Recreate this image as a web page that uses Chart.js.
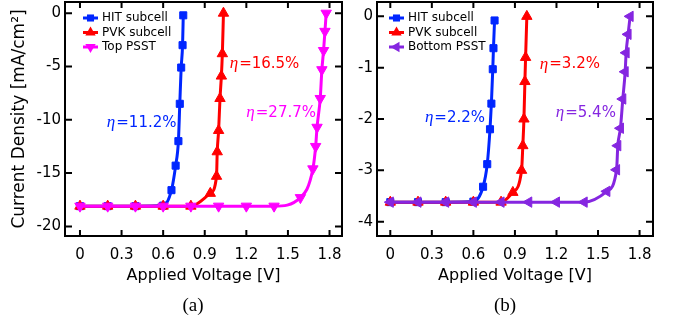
<!DOCTYPE html>
<html>
<head>
<meta charset="utf-8">
<script src="https://cdn.jsdelivr.net/npm/chart.js@4.4.0/dist/chart.umd.min.js"></script>
<style>
  html, body { margin: 0; padding: 0; background: #fff; }
  #wrap { position: relative; width: 673px; height: 328px; overflow: hidden; }
  #ca { position: absolute; left: 0; top: 0; }
  #cb { position: absolute; left: 345px; top: 0; }
  .panel { position: absolute; top: 294px; font: 19px "Liberation Serif", serif; transform: translateX(-50%); }
</style>
</head>
<body>
<div id="wrap">
  <canvas id="ca" width="345" height="328"></canvas>
  <canvas id="cb" width="328" height="328"></canvas>
  <div class="panel" style="left:193px">(a)</div>
  <div class="panel" style="left:505px">(b)</div>
</div>
<script>
// ticks
const xTicks = [0, 0.3, 0.6, 0.9, 1.2, 1.5, 1.8];
const yTicksA = [0, -5, -10, -15, -20];
const yTicksB = [0, -1, -2, -3, -4];

// series names
const namesA = ['HIT subcell', 'PVK subcell', 'Top PSST'];
const namesB = ['HIT subcell', 'PVK subcell', 'Bottom PSST'];
const effA = ['11.2%', '16.5%', '27.7%'];
const effB = ['2.2%', '3.2%', '5.4%'];

// panel (a): voltage [V] / current density [mA/cm2]
const hitVA = [0, 0.2, 0.4, 0.6, 0.66, 0.69, 0.71, 0.72, 0.73, 0.74, 0.745];
const hitJA = [-18.1, -18.1, -18.1, -18.05, -16.6, -14.3, -12.0, -8.5, -5.1, -3.0, -0.2];
const pvkVA = [0, 0.2, 0.4, 0.6, 0.8, 0.94, 0.985, 0.99, 1.0, 1.01, 1.02, 1.027, 1.035];
const pvkJA = [-18.1, -18.1, -18.1, -18.1, -18.1, -16.9, -15.3, -13.0, -11.0, -8.0, -5.9, -3.8, 0];
const psstVA = [0, 0.2, 0.4, 0.6, 0.8, 1.0, 1.2, 1.4, 1.59, 1.68, 1.70, 1.71, 1.733, 1.745, 1.757, 1.767, 1.776];
const psstJA = [-18.1, -18.1, -18.1, -18.1, -18.1, -18.1, -18.1, -18.1, -17.3, -14.6, -12.5, -10.7, -8.0, -5.3, -3.5, -1.7, 0];

// panel (b)
const hitVB = [0, 0.2, 0.4, 0.6, 0.67, 0.7, 0.72, 0.73, 0.74, 0.745, 0.753];
const hitJB = [-3.62, -3.62, -3.62, -3.61, -3.32, -2.88, -2.2, -1.7, -1.03, -0.62, -0.08];
const pvkVB = [0, 0.2, 0.4, 0.6, 0.8, 0.885, 0.948, 0.957, 0.965, 0.972, 0.977, 0.986];
const pvkJB = [-3.62, -3.62, -3.62, -3.62, -3.62, -3.43, -3.0, -2.52, -2.0, -1.27, -0.8, 0];
const psstVB = [0, 0.2, 0.4, 0.6, 0.8, 1.0, 1.2, 1.4, 1.564, 1.634, 1.643, 1.662, 1.679, 1.696, 1.703, 1.717, 1.732];
const psstJB = [-3.62, -3.62, -3.62, -3.62, -3.62, -3.62, -3.62, -3.62, -3.41, -2.99, -2.52, -2.18, -1.61, -1.08, -0.71, -0.35, 0];

const SANS = 'DejaVu Sans';
Chart.defaults.color = '#000';
Chart.defaults.font.family = SANS;

function drawMarker(ctx, style, rot, r, x, y) {
  ctx.save();
  ctx.translate(x, y);
  ctx.rotate((rot || 0) * Math.PI / 180);
  ctx.beginPath();
  if (style === 'rect') {
    const s = r * Math.SQRT1_2;
    ctx.rect(-s, -s, 2 * s, 2 * s);
  } else {
    ctx.moveTo(0, -r);
    ctx.lineTo(r * 0.866, r * 0.5);
    ctx.lineTo(-r * 0.866, r * 0.5);
    ctx.closePath();
  }
  ctx.fill();
  ctx.restore();
}

// box with inward ticks on all four sides
const frame = {
  id: 'frame',
  afterDatasetsDraw(chart) {
    const { ctx, chartArea: a, scales: { x, y } } = chart;
    ctx.save();
    ctx.strokeStyle = '#000';
    ctx.lineWidth = 2;
    ctx.beginPath();
    x.ticks.forEach(t => {
      const p = x.getPixelForValue(t.value);
      ctx.moveTo(p, a.bottom); ctx.lineTo(p, a.bottom - 6);
      ctx.moveTo(p, a.top); ctx.lineTo(p, a.top + 6);
    });
    y.ticks.forEach(t => {
      const p = y.getPixelForValue(t.value);
      ctx.moveTo(a.left, p); ctx.lineTo(a.left + 7, p);
      ctx.moveTo(a.right, p); ctx.lineTo(a.right - 7, p);
    });
    ctx.stroke();
    ctx.strokeRect(a.left, a.top, a.right - a.left, a.bottom - a.top);
    ctx.restore();
  }
};

// legend in the top left corner, line + marker
const cornerLegend = {
  id: 'cornerLegend',
  afterDraw(chart, args, opts) {
    const { ctx, chartArea: a } = chart;
    ctx.save();
    ctx.font = '12px "' + SANS + '"';
    ctx.textBaseline = 'middle';
    chart.data.datasets.forEach((ds, i) => {
      const y = a.top + opts.top + i * 14.5;
      const x0 = a.left + opts.left;
      ctx.strokeStyle = ds.borderColor;
      ctx.fillStyle = ds.borderColor;
      ctx.lineWidth = 3;
      ctx.beginPath(); ctx.moveTo(x0, y); ctx.lineTo(x0 + 15, y); ctx.stroke();
      drawMarker(ctx, ds.pointStyle, ds.pointRotation, ds.pointRadius, x0 + 7.5, y);
      ctx.fillStyle = '#000';
      ctx.fillText(ds.label, x0 + 19, y);
    });
    ctx.restore();
  }
};

// efficiency labels, placed in data units
const etaLabels = {
  id: 'etaLabels',
  afterDraw(chart, args, opts) {
    const { ctx, scales: { x, y } } = chart;
    ctx.save();
    ctx.textBaseline = 'middle';
    opts.items.forEach(it => {
      const px = x.getPixelForValue(it.x), py = y.getPixelForValue(it.y);
      ctx.fillStyle = it.color;
      ctx.font = 'italic 17px "Liberation Serif"';
      ctx.fillText('\u03b7', px, py);
      const w = ctx.measureText('\u03b7').width;
      ctx.font = '15px "' + SANS + '"';
      ctx.fillText('=' + it.text, px + w + 1, py);
    });
    ctx.restore();
  }
};

function makeChart(id, p) {
  const series = [
    { name: p.names[0], v: p.v[0], j: p.j[0], color: '#0026ff', style: 'rect', rot: 0, r: 5 },
    { name: p.names[1], v: p.v[1], j: p.j[1], color: '#ff0000', style: 'triangle', rot: 0, r: 6 },
    { name: p.names[2], v: p.v[2], j: p.j[2], color: p.psstColor, style: 'triangle', rot: p.psstRot, r: 6 }
  ];
  return new Chart(document.getElementById(id), {
    type: 'line',
    data: {
      datasets: series.map((s, i) => ({
        label: s.name,
        data: s.v.map((v, k) => ({ x: v, y: s.j[k] })),
        borderColor: s.color,
        backgroundColor: s.color,
        pointBackgroundColor: s.color,
        pointBorderColor: s.color,
        pointStyle: s.style,
        pointRotation: s.rot,
        pointRadius: s.r,
        pointBorderWidth: 1,
        borderWidth: 3,
        cubicInterpolationMode: 'monotone',
        order: 3 - i
      }))
    },
    options: {
      responsive: false,
      animation: false,
      layout: { autoPadding: false, padding: { left: p.padLeft, right: p.padRight, top: 2, bottom: 43 } },
      plugins: {
        legend: { display: false },
        tooltip: { enabled: false },
        cornerLegend: { left: p.legendLeft, top: 16 },
        etaLabels: { items: p.eta }
      },
      scales: {
        x: {
          type: 'linear', min: p.xMin, max: p.xMax,
          afterBuildTicks: s => { s.ticks = xTicks.map(v => ({ value: v })); },
          afterFit: s => { s.height = 49; s.paddingLeft = 0; s.paddingRight = 0; },
          grid: { display: false, drawTicks: false }, border: { display: false },
          ticks: { font: { size: 15 }, padding: 10, maxRotation: 0, autoSkip: false, callback: v => String(v) },
          title: { display: true, text: 'Applied Voltage [V]', font: { size: 16 }, padding: 0 }
        },
        y: {
          type: 'linear', min: p.yMin, max: p.yMax,
          afterBuildTicks: s => { s.ticks = p.yTicks.map(v => ({ value: v })); },
          afterFit: s => { s.width = p.yWidth; s.paddingTop = 0; s.paddingBottom = 0; },
          grid: { display: false, drawTicks: false }, border: { display: false },
          ticks: { font: { size: 15 }, padding: 4, autoSkip: false, callback: v => String(v) },
          title: { display: p.yTitle !== '', text: p.yTitle, font: { size: 17 }, padding: 0 }
        }
      }
    },
    plugins: [frame, cornerLegend, etaLabels]
  });
}

makeChart('ca', {
  names: namesA, v: [hitVA, pvkVA, psstVA], j: [hitJA, pvkJA, psstJA],
  psstColor: '#ff00ff', psstRot: 180,
  xMin: -0.108, xMax: 1.89, yMin: -20.9, yMax: 1.05, yTicks: yTicksA,
  padLeft: 9, padRight: 3, yWidth: 56, legendLeft: 18,
  yTitle: 'Current Density [mA/cm\u00b2]',
  eta: [
    { x: 0.194, y: -10.3, text: effA[0], color: '#0026ff' },
    { x: 1.08, y: -4.75, text: effA[1], color: '#ff0000' },
    { x: 1.2, y: -9.35, text: effA[2], color: '#ff00ff' }
  ]
});

makeChart('cb', {
  names: namesB, v: [hitVB, pvkVB, psstVB], j: [hitJB, pvkJB, psstJB],
  psstColor: '#8526e0', psstRot: 270,
  xMin: -0.096, xMax: 1.897, yMin: -4.28, yMax: 0.28, yTicks: yTicksB,
  padLeft: 0, padRight: 20, yWidth: 32, legendLeft: 12,
  yTitle: '',
  eta: [
    { x: 0.25, y: -1.98, text: effB[0], color: '#0026ff' },
    { x: 1.08, y: -0.93, text: effB[1], color: '#ff0000' },
    { x: 1.195, y: -1.88, text: effB[2], color: '#8526e0' }
  ]
});
</script>
</body>
</html>
